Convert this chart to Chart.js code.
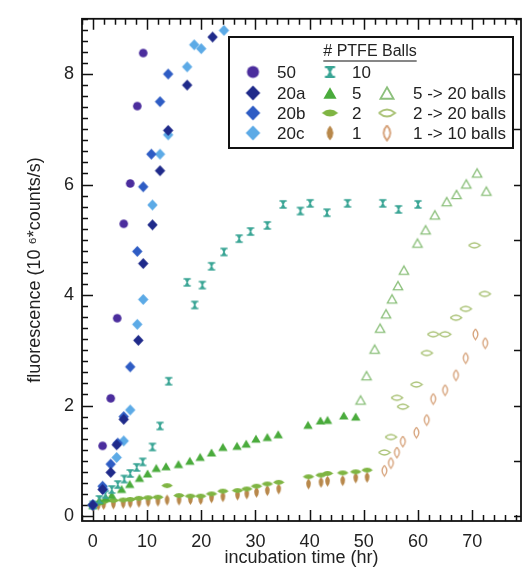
<!DOCTYPE html>
<html>
<head>
<meta charset="utf-8">
<script src="https://cdn.jsdelivr.net/npm/chart.js@4.4.1/dist/chart.umd.min.js"></script>
<style>
  html, body { margin: 0; padding: 0; background: #fff; }
</style>
</head>
<body>
<canvas id="chart" width="527" height="569"></canvas>
<script>
// incubation time (hr) / fluorescence (10^6 counts/s), one pair per ball count
const t50 = [1.8, 3.3, 4.5, 5.7, 6.9, 8.2, 9.3];
const f50 = [1.27, 2.13, 3.58, 5.29, 6.02, 7.42, 8.38];

const t20a = [0, 1.8, 3.3, 4.4, 5.7, 8.4, 9.3, 11.0, 12.4, 13.9, 17.4, 22.1];
const f20a = [0.2, 0.48, 0.79, 1.29, 1.75, 3.18, 4.57, 5.27, 6.25, 6.98, 7.8, 8.67];

const t20b = [0, 1.8, 3.3, 4.6, 5.7, 6.9, 8.2, 9.3, 10.8, 12.4, 13.9];
const f20b = [0.2, 0.54, 0.94, 1.32, 1.8, 2.7, 4.79, 5.96, 6.55, 7.5, 8.0];

const t20c = [0, 2.0, 4.4, 5.7, 6.9, 8.2, 9.3, 11.0, 12.4, 13.9, 17.4, 18.7, 20.0, 24.2];
const f20c = [0.2, 0.49, 1.06, 1.36, 1.92, 3.47, 3.92, 5.63, 6.55, 6.9, 8.13, 8.53, 8.46, 8.79];

const t10 = [0, 1.2, 2.3, 3.5, 4.6, 5.8, 6.9, 8.1, 9.2, 11.0, 12.4, 14.0, 17.4, 18.8,
  20.2, 21.9, 24.2, 27.0, 29.1, 32.2, 35.1, 38.3, 40.1, 43.2, 47.0, 53.5, 56.4, 60.0];
const f10 = [0.2, 0.3, 0.39, 0.48, 0.57, 0.67, 0.77, 0.88, 0.98, 1.25, 1.63, 2.44, 4.23, 3.82,
  4.18, 4.52, 4.78, 5.02, 5.15, 5.26, 5.64, 5.52, 5.66, 5.49, 5.66, 5.66, 5.55, 5.64];

const t5 = [0, 1.2, 2.4, 3.5, 5.3, 6.8, 8.6, 10.1, 11.7, 13.5, 15.8, 17.9, 19.8, 21.9,
  24.0, 26.6, 28.3, 30.1, 32.2, 34.2, 39.7, 42.0, 43.3, 46.3, 48.5];
const f5 = [0.2, 0.28, 0.33, 0.38, 0.49, 0.58, 0.69, 0.77, 0.87, 0.9, 0.94, 1.0, 1.07, 1.15,
  1.25, 1.27, 1.31, 1.4, 1.43, 1.48, 1.65, 1.73, 1.74, 1.82, 1.8];

const t2 = [0, 1, 2, 3.8, 5.6, 6.9, 8.5, 10.2, 12.0, 13.7, 15.9, 18.0, 19.9, 21.9, 24.0,
  26.7, 28.4, 30.2, 32.2, 34.3, 39.8, 42.1, 43.3, 46.1, 48.5, 50.6];
const f2 = [0.2, 0.23, 0.26, 0.28, 0.29, 0.3, 0.32, 0.33, 0.34, 0.55, 0.37, 0.36, 0.36, 0.4, 0.45,
  0.46, 0.49, 0.54, 0.58, 0.61, 0.71, 0.74, 0.77, 0.78, 0.8, 0.83];

const t1 = [0, 1, 2, 3.8, 5.6, 6.9, 8.5, 10.2, 12.0, 13.7, 15.9, 18.0, 19.9, 21.9, 24.0,
  26.7, 28.4, 30.2, 32.2, 34.3, 39.8, 42.1, 43.3, 46.1, 48.5, 50.6];
const f1 = [0.18, 0.2, 0.21, 0.22, 0.23, 0.24, 0.25, 0.26, 0.27, 0.29, 0.29, 0.3, 0.3, 0.33, 0.35,
  0.38, 0.4, 0.43, 0.46, 0.49, 0.58, 0.61, 0.63, 0.64, 0.69, 0.7];

const t5to20 = [49.4, 50.5, 52.0, 53.0, 54.1, 55.2, 56.3, 57.4, 59.9, 61.4, 63.1, 65.3, 67.1, 68.9, 70.9, 72.6];
const f5to20 = [2.1, 2.54, 3.02, 3.4, 3.66, 3.93, 4.17, 4.45, 4.94, 5.18, 5.45, 5.69, 5.82, 6.01, 6.21, 5.88];

const t2to20 = [53.8, 55.0, 56.1, 57.2, 59.7, 61.6, 62.8, 65.0, 67.0, 68.8, 70.4, 72.3];
const f2to20 = [1.15, 1.43, 2.14, 1.98, 2.38, 2.95, 3.29, 3.29, 3.59, 3.75, 4.9, 4.02];

const t1to10 = [53.8, 55.0, 56.1, 57.2, 59.7, 61.6, 62.8, 65.0, 67.0, 68.8, 70.6, 72.4];
const f1to10 = [0.82, 0.96, 1.15, 1.35, 1.51, 1.74, 2.12, 2.28, 2.55, 2.86, 3.29, 3.13];

const FONT = "'Liberation Sans', Arial, Helvetica, sans-serif";

// half width / half height of each symbol at plot scale
const SHAPES = {
  circle: [4.3, 4.3],
  diamond: [5.2, 5.4],
  hour: [3.6, 4.2],
  tri: [4.7, 4.1],
  lens: [5.8, 3.3],
  tall: [3.2, 5.4],
};

function marker(kind, color, open, k) {
  const [w0, h0] = SHAPES[kind];
  const hw = w0 * k, hh = h0 * k;
  const c = document.createElement("canvas");
  c.width = Math.ceil(hw * 2 + 4);
  c.height = Math.ceil(hh * 2 + 4);
  const g = c.getContext("2d");
  const cx = c.width / 2, cy = c.height / 2;
  g.beginPath();
  if (kind === "circle") {
    g.arc(cx, cy, hw, 0, Math.PI * 2);
  } else if (kind === "tri") {
    g.moveTo(cx, cy - hh);
    g.lineTo(cx + hw, cy + hh);
    g.lineTo(cx - hw, cy + hh);
    g.closePath();
  } else if (kind === "hour") {
    const bar = 1.5 * k;
    g.rect(cx - hw, cy - hh, hw * 2, bar);
    g.rect(cx - hw, cy + hh - bar, hw * 2, bar);
    g.moveTo(cx - hw * 0.8, cy - hh);
    g.lineTo(cx + hw * 0.8, cy - hh);
    g.lineTo(cx + 0.7 * k, cy);
    g.lineTo(cx + hw * 0.8, cy + hh);
    g.lineTo(cx - hw * 0.8, cy + hh);
    g.lineTo(cx - 0.7 * k, cy);
    g.closePath();
  } else if (kind === "lens") {
    g.moveTo(cx - hw, cy);
    g.quadraticCurveTo(cx, cy - hh * 1.5, cx + hw, cy);
    g.quadraticCurveTo(cx, cy + hh * 1.5, cx - hw, cy);
  } else if (kind === "tall") {
    g.moveTo(cx, cy - hh);
    g.quadraticCurveTo(cx + hw * 1.5, cy, cx, cy + hh);
    g.quadraticCurveTo(cx - hw * 1.5, cy, cx, cy - hh);
  } else {
    g.moveTo(cx, cy - hh);
    g.lineTo(cx + hw, cy);
    g.lineTo(cx, cy + hh);
    g.lineTo(cx - hw, cy);
    g.closePath();
  }
  if (open) {
    g.lineWidth = 1.3 * k;
    g.strokeStyle = color;
    g.stroke();
  } else {
    g.fillStyle = color;
    g.fill();
  }
  return c;
}

const series = [
  { label: "50", t: t50, f: f50, kind: "circle", color: "#4b2d9d", open: false, cell: [0, 0] },
  { label: "20a", t: t20a, f: f20a, kind: "diamond", color: "#1f2a8a", open: false, cell: [0, 1] },
  { label: "20b", t: t20b, f: f20b, kind: "diamond", color: "#2e5cc4", open: false, cell: [0, 2] },
  { label: "20c", t: t20c, f: f20c, kind: "diamond", color: "#5caae6", open: false, cell: [0, 3] },
  { label: "10", t: t10, f: f10, kind: "hour", color: "#3aa595", open: false, cell: [1, 0] },
  { label: "5", t: t5, f: f5, kind: "tri", color: "#4aab3c", open: false, cell: [1, 1] },
  { label: "2", t: t2, f: f2, kind: "lens", color: "#7fb543", open: false, cell: [1, 2] },
  { label: "1", t: t1, f: f1, kind: "tall", color: "#b8884b", open: false, cell: [1, 3] },
  { label: "5 -> 20 balls", t: t5to20, f: f5to20, kind: "tri", color: "#8cc07c", open: true, cell: [2, 1] },
  { label: "2 -> 20 balls", t: t2to20, f: f2to20, kind: "lens", color: "#abc378", open: true, cell: [2, 2] },
  { label: "1 -> 10 balls", t: t1to10, f: f1to10, kind: "tall", color: "#d6a27a", open: true, cell: [2, 3] },
];

const datasets = series.map((s) => ({
  label: s.label,
  data: s.t.map((x, i) => ({ x, y: s.f[i] })),
  pointStyle: marker(s.kind, s.color, s.open, 1),
  pointRadius: 5,
  backgroundColor: s.color,
  borderColor: s.color,
}));

// box frame with inward ticks on all four sides
const framePlugin = {
  id: "frame",
  beforeDatasetsDraw(chart) {
    const { ctx, chartArea: a, scales } = chart;
    const x = scales.x, y = scales.y;
    ctx.save();
    ctx.strokeStyle = "#111";
    ctx.lineWidth = 1.8;
    ctx.strokeRect(a.left, a.top, a.right - a.left, a.bottom - a.top);
    ctx.lineWidth = 1.5;
    ctx.beginPath();
    for (let i = -1; i <= 39; i++) {
      const px = Math.round(x.getPixelForValue(i * 2)) + 0.5;
      const len = i % 5 === 0 ? 11 : 6;
      ctx.moveTo(px, a.bottom);
      ctx.lineTo(px, a.bottom - len);
      ctx.moveTo(px, a.top);
      ctx.lineTo(px, a.top + len);
    }
    for (let i = 0; i <= 45; i++) {
      const py = Math.round(y.getPixelForValue(i / 5)) + 0.5;
      const len = i % 10 === 0 ? 11 : 6;
      ctx.moveTo(a.left, py);
      ctx.lineTo(a.left + len, py);
    }
    for (let i = 0; i <= 9; i++) {
      const py = Math.round(y.getPixelForValue(i)) + 0.5;
      ctx.moveTo(a.right, py);
      ctx.lineTo(a.right - 7, py);
    }
    ctx.stroke();
    ctx.restore();
  },
};

// boxed legend with a title and three columns
const legendPlugin = {
  id: "ptfeLegend",
  afterDatasetsDraw(chart) {
    const ctx = chart.ctx;
    const symX = [253, 330, 387];
    const textX = [277, 352, 413];
    const rowY = [72, 93, 113, 133];
    ctx.save();
    ctx.fillStyle = "#fff";
    ctx.fillRect(229, 37, 284, 111);
    ctx.strokeStyle = "#111";
    ctx.lineWidth = 2;
    ctx.strokeRect(229, 37, 284, 111);

    ctx.fillStyle = "#222";
    ctx.font = "16px " + FONT;
    ctx.textAlign = "center";
    ctx.textBaseline = "middle";
    ctx.fillText("# PTFE Balls", 370, 52);
    const tw = ctx.measureText("# PTFE Balls").width;
    ctx.lineWidth = 1.2;
    ctx.beginPath();
    ctx.moveTo(370 - tw / 2, 61);
    ctx.lineTo(370 + tw / 2, 61);
    ctx.stroke();

    ctx.font = "17px " + FONT;
    ctx.textAlign = "left";
    series.forEach((s) => {
      const [col, row] = s.cell;
      const img = marker(s.kind, s.color, s.open, 1.4);
      ctx.drawImage(img, symX[col] - img.width / 2, rowY[row] - img.height / 2);
      ctx.fillStyle = "#222";
      ctx.fillText(s.label, textX[col], rowY[row] + 1);
    });
    ctx.restore();
  },
};

new Chart(document.getElementById("chart"), {
  type: "scatter",
  data: { datasets },
  options: {
    responsive: false,
    animation: false,
    layout: { padding: { top: 13, right: 2, left: 0, bottom: 0 } },
    plugins: { legend: { display: false }, tooltip: { enabled: false } },
    scales: {
      x: {
        type: "linear",
        min: -2,
        max: 79,
        grid: { display: false, drawTicks: false },
        border: { display: false },
        ticks: { stepSize: 10, includeBounds: false, color: "#222", padding: 10, font: { family: FONT, size: 18 } },
        title: {
          display: true,
          text: "incubation time (hr)",
          color: "#222",
          font: { family: FONT, size: 18 },
          padding: { top: 0, bottom: 0 },
        },
        afterFit(scale) { scale.height = 48; },
      },
      y: {
        type: "linear",
        min: -0.09,
        max: 9,
        grid: { display: false, drawTicks: false },
        border: { display: false },
        ticks: { stepSize: 2, includeBounds: false, color: "#222", padding: 8, font: { family: FONT, size: 18 } },
        title: {
          display: true,
          text: "fluorescence (10 \u2076*counts/s)",
          color: "#222",
          font: { family: FONT, size: 18 },
          padding: { top: 24, bottom: 0 },
        },
        afterFit(scale) { scale.width = 82; },
      },
    },
  },
  plugins: [framePlugin, legendPlugin],
});
</script>
</body>
</html>
